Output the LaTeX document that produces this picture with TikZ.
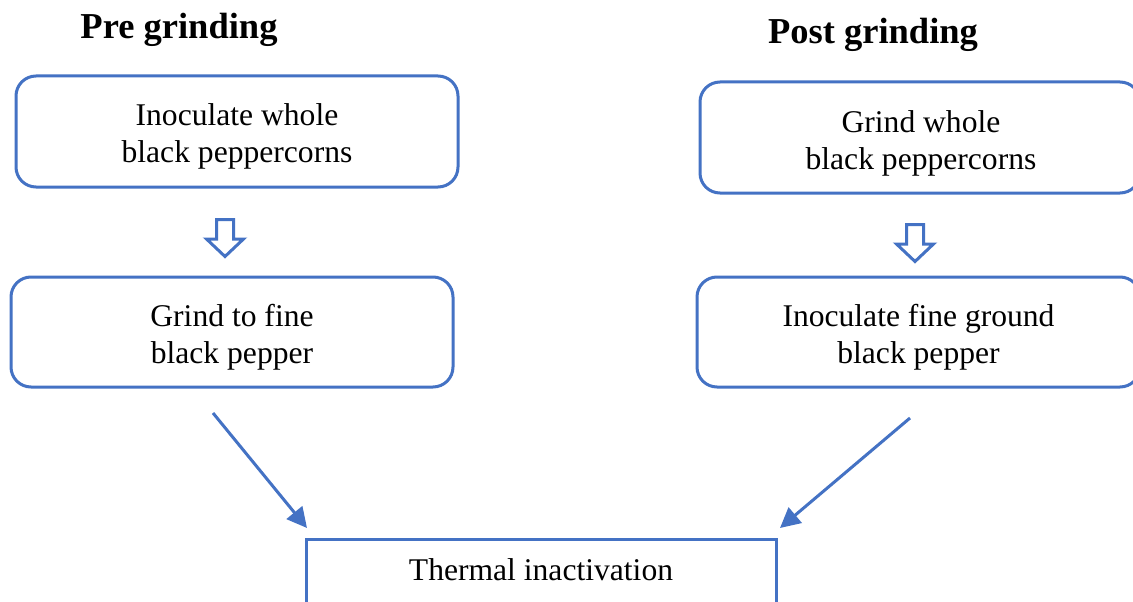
\documentclass[tikz,border=0pt]{standalone}
\usepackage{fontspec}
\setmainfont{Liberation Serif}
\usetikzlibrary{arrows.meta,calc}
\definecolor{obl}{HTML}{4472C4}
\begin{document}
\begin{tikzpicture}[x=1pt,y=-1pt,
  title/.style={font=\fontsize{36.5}{40}\selectfont\bfseries, inner sep=0pt},
  rbox/.style={draw=obl, line width=3pt, rounded corners=20pt, inner sep=0pt},
  txt/.style={align=center, font=\fontsize{31.6}{37}\selectfont, inner sep=0pt},
  sbox/.style={draw=obl, line width=3pt, align=center,
    font=\fontsize{31.6}{37}\selectfont, inner sep=0pt},
  flow/.style={draw=obl, line width=3pt, -{Triangle[length=20pt,width=20pt]}},
  blk/.style={draw=obl, line width=3pt, fill=white, line join=miter}]
\useasboundingbox (0,0) rectangle (1133,602);
\clip (0,0) rectangle (1133,602);
\fill[white] (0,0) rectangle (1133,602);

\node[title] (t1) at (179,30) {Pre grinding};
\node[title] (t2) at (873,35) {Post grinding};

\node[rbox, minimum width=442pt, minimum height=111pt] (b1) at (237,131.5) {};
\node[rbox, minimum width=442pt, minimum height=110pt] (b2) at (232,332) {};
\node[rbox, minimum width=440pt, minimum height=111pt] (b3) at (920,137.5) {};
\node[rbox, minimum width=443pt, minimum height=110pt] (b4) at (918.5,332) {};
\node[txt] (b1t) at ($(b1)+(0,5)$) {Inoculate whole\\black peppercorns};
\node[txt] (b2t) at ($(b2)+(0,5)$) {Grind to fine\\black pepper};
\node[txt] (b3t) at ($(b3)+(1,6)$) {Grind whole\\black peppercorns};
\node[txt] (b4t) at ($(b4)+(0,5)$) {Inoculate fine ground\\black pepper};
\node[sbox, minimum width=470pt, minimum height=72pt, text height=22pt, text depth=12pt] (b5) at (541,575) {Thermal inactivation};

% block arrows
\coordinate (a1) at (225,219.5);
\coordinate (a2) at (915,224.5);
\foreach \c in {a1,a2}{
  \draw[blk] ($(\c)+(-8.5,0)$) -- ($(\c)+(8.5,0)$) -- ($(\c)+(8.5,19.5)$) -- ($(\c)+(18.5,19.5)$)
    -- ($(\c)+(0,37)$) -- ($(\c)+(-18.5,19.5)$) -- ($(\c)+(-8.5,19.5)$) -- cycle;
}

% diagonal arrows
\coordinate (s1) at (213,413);
\coordinate (e1) at (307,528);
\coordinate (s2) at (910,418);
\coordinate (e2) at (780,528);
\draw[flow] (s1) -- (e1);
\draw[flow] (s2) -- (e2);
\end{tikzpicture}
\end{document}
